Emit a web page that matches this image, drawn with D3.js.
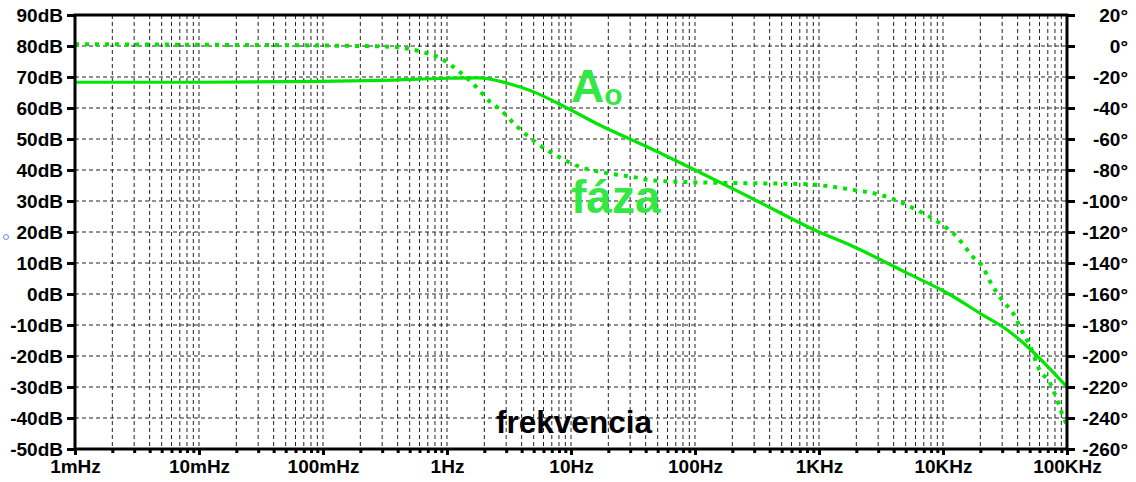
<!DOCTYPE html>
<html><head><meta charset="utf-8">
<script src="https://cdn.jsdelivr.net/npm/d3@7"></script>
<style>
html,body{margin:0;padding:0;background:#fff;}
svg{display:block;font-family:"Liberation Sans",Arial,sans-serif;}
</style></head>
<body>
<svg id="c" width="1136" height="482"></svg>
<script>
// ---- data ----
const magFreq = [0.001, 0.01, 0.1, 0.3, 1, 1.8, 3, 5, 9.3, 17, 43, 100, 300, 1000, 1780, 5100, 10700, 21000, 33000, 48000, 100000];
const magDb   = [68.3, 68.3, 68.6, 68.9, 69.6, 69.7, 68.1, 65.2, 60, 54.5, 47.1, 40, 30.5, 20, 15.8, 6.8, 0.4, -6.8, -11.6, -17, -30];
const phFreq  = [0.001, 0.01, 0.1, 0.3, 0.42, 0.64, 0.88, 1.27, 1.75, 2.22, 2.68, 3.67, 5.3, 8.15, 11.8, 19.5, 31.6, 43, 80, 202, 703, 1950, 3100, 4500, 6150, 9100, 12900, 17400, 21000, 24000, 30000, 36500, 44000, 50000, 60000, 72500, 83000, 91000, 100000];
const phDeg   = [1.2, 0.8, 0.3, -0.3, -1, -3.9, -7.8, -16.8, -27, -36, -41, -52, -62.6, -72, -78, -82, -84.5, -86.5, -87.7, -88.4, -89, -93, -96, -100.6, -105.8, -113.5, -123, -136, -142.6, -152, -164, -172, -185, -193, -209, -217, -228, -237, -244.6];
const dbTicks = [90, 80, 70, 60, 50, 40, 30, 20, 10, 0, -10, -20, -30, -40, -50];
const degTicks = [20, 0, -20, -40, -60, -80, -100, -120, -140, -160, -180, -200, -220, -240, -260];
const freqTicks = [0.001, 0.01, 0.1, 1, 10, 100, 1000, 10000, 100000];
const freqLabels = ["1mHz", "10mHz", "100mHz", "1Hz", "10Hz", "100Hz", "1KHz", "10KHz", "100KHz"];

// ---- layout ----
const L = 75, R = 1067, T = 15, B = 449;
const svg = d3.select("#c");
const x = d3.scaleLog().domain([0.001, 100000]).range([L, R]);
const yL = d3.scaleLinear().domain([-50, 90]).range([B, T]);
const yR = d3.scaleLinear().domain([-260, 20]).range([B, T]);

const minorFreqs = [];
for (let e = -3; e < 5; e++) for (let m = 1; m <= 9; m++) minorFreqs.push(m * Math.pow(10, e));
minorFreqs.push(100000);

// grid
const grid = svg.append("g").attr("stroke", "#222").attr("stroke-width", 1).attr("stroke-dasharray", "4,3");
minorFreqs.filter(f => f > 0.001 && f < 100000).forEach(f => {
  grid.append("line").attr("x1", x(f)).attr("x2", x(f)).attr("y1", T).attr("y2", B);
});
dbTicks.filter(v => v > -50 && v < 90).forEach(v => {
  grid.append("line").attr("x1", L).attr("x2", R).attr("y1", yL(v)).attr("y2", yL(v));
});

// curves
const green = "#00e600";
const magLine = d3.line().x(d => x(d[0])).y(d => yL(d[1])).curve(d3.curveMonotoneX);
const phLine = d3.line().x(d => x(d[0])).y(d => yR(d[1])).curve(d3.curveMonotoneX);
svg.append("path").datum(magFreq.map((f, i) => [f, magDb[i]]))
  .attr("d", magLine).attr("fill", "none").attr("stroke", green).attr("stroke-width", 3.2);
svg.append("path").datum(phFreq.map((f, i) => [f, phDeg[i]]))
  .attr("d", phLine).attr("fill", "none").attr("stroke", green).attr("stroke-width", 4)
  .attr("stroke-dasharray", "4,6");

// axes
const axL = svg.append("g").attr("transform", `translate(${L},0)`)
  .call(d3.axisLeft(yL).tickValues(dbTicks).tickSize(8).tickFormat(d => d + "dB"));
const axR = svg.append("g").attr("transform", `translate(${R},0)`)
  .call(d3.axisRight(yR).tickValues(degTicks).tickSize(8).tickFormat(d => d + "°"));
const axB = svg.append("g").attr("transform", `translate(0,${B})`)
  .call(d3.axisBottom(x).tickValues(minorFreqs).tickSize(4).tickFormat(""));
const axBM = svg.append("g").attr("transform", `translate(0,${B})`)
  .call(d3.axisBottom(x).tickValues(freqTicks).tickSize(6).tickPadding(10).tickFormat((d, i) => freqLabels[i]));
[axL, axR, axB, axBM].forEach(a => {
  a.select(".domain").remove();
  a.selectAll(".tick line").attr("stroke", "#000").attr("stroke-width", 3);
  a.selectAll("text").attr("fill", "#000").attr("font-size", 19).attr("font-weight", "bold")
    .attr("font-family", "'Liberation Sans', Arial, sans-serif");
});
axL.selectAll("text").attr("x", -12);
axR.selectAll("text").attr("text-anchor", "end").attr("x", 61);
axBM.selectAll("text").attr("y", 11);
// frame
svg.append("rect").attr("x", L).attr("y", T).attr("width", R - L).attr("height", B - T)
  .attr("fill", "none").attr("stroke", "#000").attr("stroke-width", 3);

// annotations
const tg = "#33e843";
const ao = svg.append("text").attr("x", 571).attr("y", 102).attr("fill", tg)
  .attr("font-weight", "bold").attr("font-size", 46);
ao.append("tspan").text("A");
ao.append("tspan").attr("font-size", 30).attr("dy", 3).text("o");
svg.append("text").attr("x", 571).attr("y", 213).attr("fill", tg)
  .attr("font-weight", "bold").attr("font-size", 46).text("fáza");
svg.append("text").attr("x", 574).attr("y", 433).attr("text-anchor", "middle").attr("fill", "#000")
  .attr("font-weight", "bold").attr("font-size", 31.5).text("frekvencia");
svg.append("circle").attr("cx", 6).attr("cy", 237).attr("r", 2.5).attr("fill", "none")
  .attr("stroke", "#5b9bd5").attr("stroke-width", 1);
</script>
</body></html>
